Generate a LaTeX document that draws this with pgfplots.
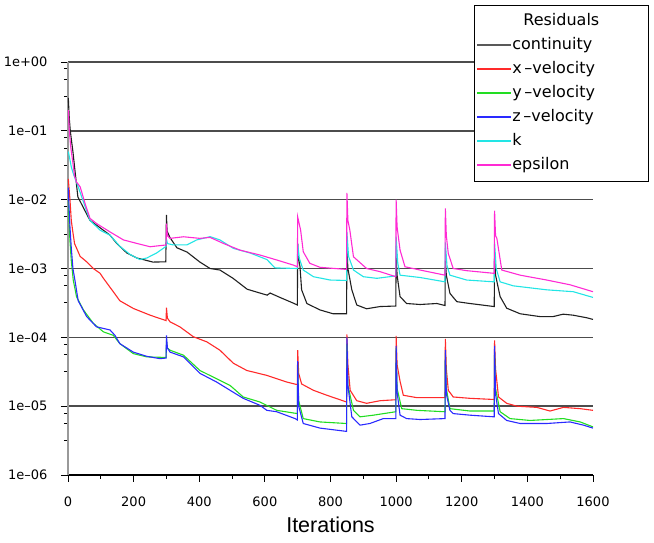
\documentclass[border=0pt]{standalone}
\usepackage{fontspec}
\setmainfont{DejaVu Sans}
\newfontfamily\labfont{Liberation Sans}
\usepackage{pgfplots}
\pgfplotsset{compat=1.18}

\definecolor{cont}{HTML}{202020}
\definecolor{xvel}{HTML}{FF2A2A}
\definecolor{yvel}{HTML}{22DD22}
\definecolor{zvel}{HTML}{2A2AFF}
\definecolor{kcol}{HTML}{22E5E5}
\definecolor{epscol}{HTML}{FF2AD4}

% residual line style; the legend sample is set inside the entry text
\pgfplotsset{resline/.style={draw=#1, line width=1.1pt, legend image code/.code={}}}
\newcommand{\legline}[1]{\textcolor{#1}{\rule[4pt]{34pt}{1.3pt}}\hspace{1pt}}

\begin{document}
\begin{tikzpicture}
\begin{axis}[
    scale only axis,
    width=525pt, height=413pt,
    ymode=log,
    xmin=0, xmax=1600, ymin=1e-6, ymax=1,
    axis lines=left,
    axis line style={-},
    x axis line style={black, line width=1.2pt},
    y axis line style={black!40, line width=2pt},
    tick align=outside,
    major tick length=7pt, minor tick length=4pt,
    tick style={black, line width=0.9pt},
    xtick={0,200,...,1600},
    minor xtick={100,300,...,1500},
    ytick={1e-6,1e-5,1e-4,1e-3,1e-2,1e-1,1},
    yticklabels={1e–06,1e–05,1e–04,1e–03,1e–02,1e–01,1e+00},
    minor ytick={0.794,0.562,0.316,0.0794,0.0562,0.0316,0.00794,0.00562,0.00316,
                 7.94e-4,5.62e-4,3.16e-4,7.94e-5,5.62e-5,3.16e-5,7.94e-6,5.62e-6,3.16e-6},
    ymajorgrids,
    major grid style={black!70, line width=1.5pt},
    ticklabel style={font=\fontsize{13}{13}\selectfont},
    xticklabel style={yshift=-11pt},
    yticklabel style={xshift=-10pt},
    /pgf/number format/assume math mode=true,
    /pgf/number format/1000 sep={},
    xlabel={Iterations},
    xlabel style={font=\labfont\fontsize{21.5}{22}\selectfont, yshift=-4pt},
    legend cell align=left,
    legend style={at={(0.773,1.138)}, anchor=north west, line width=1pt,
        fill=white, font=\fontsize{16}{16}\selectfont,
        inner xsep=2pt, inner ysep=4pt, row sep=0pt, column sep=0pt,
        nodes={inner ysep=4pt, inner xsep=1pt, text height=12pt, text depth=4pt}},
]
\addlegendimage{empty legend}
\addlegendentry{\makebox[168pt][c]{Residuals}}

% continuity
\addplot[resline=cont] coordinates {
(1,0.30) (4,0.15) (7,0.10) (11,0.07) (15,0.05) (20,0.03) (30,1.1e-2) (46,7.8e-3)
(67,5.0e-3) (98,3.9e-3) (128,3.05e-3) (149,2.3e-3) (180,1.67e-3) (210,1.42e-3)
(259,1.24e-3) (298,1.25e-3) (300,6.0e-3) (302,3.5e-3) (311,2.8e-3) (332,2.0e-3)
(363,1.73e-3) (402,1.24e-3) (433,1.0e-3) (463,9.5e-4) (503,7.2e-4) (546,5.0e-4)
(585,4.4e-4) (607,4.1e-4) (616,4.4e-4) (646,3.8e-4) (686,3.15e-4) (699,2.95e-4)
(700,2.3e-3) (702,1.5e-3) (707,1.06e-3) (712,4.9e-4) (728,3.1e-4) (768,2.5e-4)
(808,2.2e-4) (849,2.2e-4) (850,2.0e-3) (853,1.0e-3) (865,4.9e-4) (880,2.95e-4)
(910,2.6e-4) (951,2.8e-4) (999,2.85e-4) (1000,1.5e-3) (1003,8e-4) (1012,3.9e-4)
(1032,3.1e-4) (1073,3.0e-4) (1124,3.1e-4) (1149,2.9e-4) (1150,1.3e-3) (1153,8e-4)
(1164,4.35e-4) (1185,3.3e-4) (1225,3.1e-4) (1299,2.8e-4) (1300,1.5e-3) (1303,8e-4)
(1317,3.9e-4) (1337,2.65e-4) (1378,2.2e-4) (1439,2.0e-4) (1478,2.0e-4) (1509,2.17e-4)
(1539,2.1e-4) (1582,1.92e-4) (1600,1.82e-4)
};
\addlegendentry{\legline{black!65}continuity}

% x-velocity
\addplot[resline=xvel] coordinates {
(1,2.0e-2) (3,1.5e-2) (6,1.0e-2) (10,5e-3) (14,3.6e-3) (20,2.3e-3) (37,1.5e-3)
(57,1.25e-3) (77,1.0e-3) (98,8.5e-4) (108,7.2e-4) (138,4.6e-4) (158,3.4e-4)
(199,2.63e-4) (250,2.1e-4) (299,1.75e-4) (300,2.7e-4) (303,1.9e-4) (311,1.68e-4)
(341,1.42e-4) (382,1.02e-4) (423,8.6e-5) (463,6.5e-5) (504,4.2e-5) (545,3.3e-5)
(606,2.8e-5) (667,2.24e-5) (699,2.05e-5) (700,6.5e-5) (703,3e-5) (712,2.1e-5)
(748,1.7e-5) (789,1.44e-5) (849,1.15e-5) (850,1.1e-4) (853,4e-5) (860,1.7e-5)
(880,1.2e-5) (910,1.1e-5) (951,1.2e-5) (999,1.24e-5) (1000,1.05e-4) (1003,4e-5)
(1012,2.3e-5) (1022,1.44e-5) (1063,1.33e-5) (1149,1.33e-5) (1150,9.5e-5) (1153,3.5e-5)
(1159,1.7e-5) (1174,1.36e-5) (1225,1.3e-5) (1299,1.25e-5) (1300,9.0e-5) (1303,3.5e-5)
(1312,1.36e-5) (1337,1.1e-5) (1368,1.0e-5) (1429,9.6e-6) (1469,8.5e-6) (1510,9.6e-6)
(1561,9.2e-6) (1600,8.7e-6)
};
\addlegendentry{\legline{xvel}x\,–velocity}

% y-velocity
\addplot[resline=yvel] coordinates {
(1,1.0e-2) (3,5e-3) (6,2.5e-3) (10,1.3e-3) (16,6.8e-4) (26,3.9e-4) (47,2.5e-4)
(77,1.6e-4) (108,1.2e-4) (138,1.07e-4) (158,8.1e-5) (199,5.8e-5) (240,5.2e-5)
(299,5.1e-5) (300,9e-5) (303,7e-5) (311,6.5e-5) (352,5.5e-5) (402,3.3e-5)
(453,2.5e-5) (494,2.0e-5) (534,1.36e-5) (585,1.15e-5) (636,8.7e-6) (699,7.8e-6)
(700,4e-5) (703,1.2e-5) (717,6.6e-6) (768,5.9e-6) (849,5.6e-6) (850,8e-5)
(853,2.0e-5) (870,8.7e-6) (890,7.0e-6) (931,7.4e-6) (999,8.3e-6) (1000,7e-5)
(1003,1.8e-5) (1017,9.2e-6) (1063,8.7e-6) (1149,8.3e-6) (1150,6e-5) (1153,1.8e-5)
(1164,9.2e-6) (1225,8.5e-6) (1299,8.5e-6) (1300,6e-5) (1303,1.8e-5) (1317,8.3e-6)
(1347,6.6e-6) (1408,6.2e-6) (1510,6.6e-6) (1561,5.9e-6) (1600,5.0e-6)
};
\addlegendentry{\legline{yvel}y\,–velocity}

% z-velocity
\addplot[resline=zvel] coordinates {
(1,1.5e-2) (3,8e-3) (6,4e-3) (10,2e-3) (15,1.0e-3) (21,6.8e-4) (31,3.4e-4)
(57,2.0e-4) (87,1.42e-4) (128,1.28e-4) (143,1.07e-4) (158,8.1e-5) (199,6.1e-5)
(240,5.3e-5) (280,4.9e-5) (299,5.0e-5) (300,1.07e-4) (303,7e-5) (311,6.1e-5)
(352,5.2e-5) (402,3.0e-5) (453,2.24e-5) (494,1.7e-5) (534,1.3e-5) (585,1.03e-5)
(606,8.7e-6) (636,8.3e-6) (692,6.6e-6) (699,6.3e-6) (700,4.5e-5) (703,1.0e-5)
(717,5.6e-6) (768,4.8e-6) (849,4.3e-6) (850,1.0e-4) (853,2e-5) (865,7e-6)
(890,5.3e-6) (920,5.6e-6) (961,6.6e-6) (999,6.6e-6) (1000,7.5e-5) (1003,1.6e-5)
(1012,7.4e-6) (1032,6.6e-6) (1073,6.4e-6) (1149,6.6e-6) (1150,6.5e-5) (1153,1.5e-5)
(1164,8.7e-6) (1174,7.8e-6) (1225,7.4e-6) (1299,7.0e-6) (1300,7.5e-5) (1303,1.5e-5)
(1312,7.8e-6) (1337,6.2e-6) (1378,5.6e-6) (1459,5.6e-6) (1530,5.9e-6) (1571,5.3e-6)
(1600,4.8e-6)
};
\addlegendentry{\legline{zvel}z\,–velocity}

% k
\addplot[resline=kcol] coordinates {
(1,5e-2) (5,4e-2) (10,3e-2) (16,2.4e-2) (31,1.54e-2) (47,9.3e-3) (67,5.0e-3)
(98,3.6e-3) (128,3.05e-3) (158,2.1e-3) (189,1.6e-3) (219,1.35e-3) (240,1.42e-3)
(270,1.68e-3) (299,2.1e-3) (300,2.7e-3) (303,2.3e-3) (321,2.2e-3) (362,2.2e-3)
(392,2.6e-3) (433,2.9e-3) (463,2.6e-3) (504,1.96e-3) (555,1.68e-3) (606,1.35e-3)
(631,1.02e-3) (699,1.0e-3) (700,2.3e-3) (705,1.4e-3) (717,9.5e-4) (748,7.6e-4)
(799,6.8e-4) (849,6.7e-4) (850,3.4e-3) (855,1.5e-3) (870,9.5e-4) (900,7.6e-4)
(941,7.2e-4) (999,7.8e-4) (1000,2.9e-3) (1005,1.2e-3) (1012,8e-4) (1073,7.4e-4)
(1149,6.4e-4) (1150,2.4e-3) (1155,1.1e-3) (1164,8e-4) (1215,6.8e-4) (1299,6.4e-4)
(1300,2.4e-3) (1305,1.0e-3) (1317,6.4e-4) (1357,5.6e-4) (1459,4.9e-4) (1540,4.6e-4)
(1600,3.8e-4)
};
\addlegendentry{\legline{kcol}k}

% epsilon
\addplot[resline=epscol] coordinates {
(1,0.2) (4,0.1) (8,0.06) (15,3.4e-2) (20,2.2e-2) (26,1.8e-2) (37,1.54e-2)
(52,8.8e-3) (67,5.35e-3) (87,4.5e-3) (128,3.4e-3) (169,2.6e-3) (209,2.32e-3)
(250,2.07e-3) (299,2.2e-3) (300,4.5e-3) (303,3.0e-3) (311,2.74e-3) (352,2.89e-3)
(402,2.74e-3) (433,2.83e-3) (473,2.32e-3) (524,1.85e-3) (585,1.57e-3) (636,1.33e-3)
(687,1.12e-3) (699,1.06e-3) (700,5.6e-3) (709,3.6e-3) (717,1.75e-3) (737,1.19e-3)
(768,1.04e-3) (849,9.7e-4) (850,1.25e-2) (853,5e-3) (859,3.6e-3) (870,1.48e-3)
(910,1.0e-3) (951,9.0e-4) (999,7.6e-4) (1000,1.0e-2) (1003,4e-3) (1012,1.85e-3)
(1027,1.06e-3) (1073,9.5e-4) (1149,8.0e-4) (1150,7.5e-3) (1153,3e-3) (1159,1.65e-3)
(1174,1.0e-3) (1215,9.3e-4) (1299,8.5e-4) (1300,6.9e-3) (1303,3e-3) (1307,2.74e-3)
(1322,9.5e-4) (1378,8.0e-4) (1459,6.8e-4) (1530,5.8e-4) (1600,4.6e-4)
};
\addlegendentry{\legline{epscol}epsilon}
\end{axis}
\pgfresetboundingbox
\path (current axis.south west) +(-68pt,-68pt) (current axis.north east) +(61pt,62pt);
\end{tikzpicture}
\end{document}
